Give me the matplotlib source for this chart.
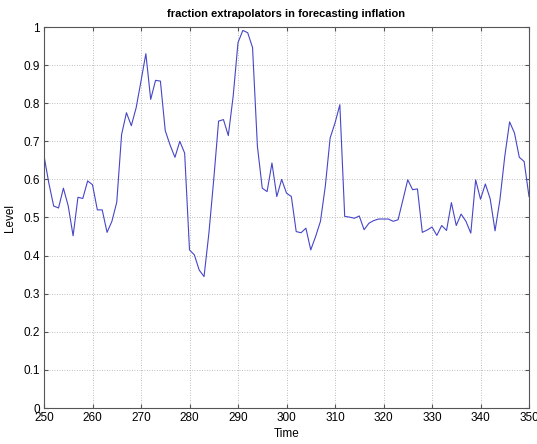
import matplotlib
matplotlib.use("Agg")
import matplotlib.pyplot as plt
import numpy as np

time = list(range(250, 351))
level = [0.662, 0.59, 0.53, 0.525, 0.577, 0.53, 0.452, 0.553, 0.55, 0.596,
         0.586, 0.52, 0.52, 0.461, 0.49, 0.54, 0.718, 0.775, 0.741, 0.788,
         0.858, 0.93, 0.81, 0.86, 0.858, 0.728, 0.69, 0.658, 0.70, 0.669,
         0.415, 0.402, 0.362, 0.345, 0.459, 0.60, 0.753, 0.757, 0.715, 0.818,
         0.959, 0.991, 0.985, 0.946, 0.687, 0.577, 0.568, 0.643, 0.555, 0.60,
         0.564, 0.555, 0.463, 0.46, 0.472, 0.415, 0.45, 0.49, 0.582, 0.709,
         0.748, 0.796, 0.503, 0.501, 0.498, 0.504, 0.468, 0.485, 0.492, 0.496,
         0.496, 0.496, 0.49, 0.494, 0.546, 0.599, 0.573, 0.575, 0.461, 0.467,
         0.475, 0.453, 0.479, 0.466, 0.539, 0.479, 0.509, 0.49, 0.459, 0.599,
         0.548, 0.588, 0.549, 0.465, 0.546, 0.66, 0.751, 0.722, 0.658, 0.647,
         0.555]

xticks = list(range(250, 351, 10))
yticks = [0, 0.1, 0.2, 0.3, 0.4, 0.5, 0.6, 0.7, 0.8, 0.9, 1]
yticklabels = ["0", "0.1", "0.2", "0.3", "0.4", "0.5", "0.6", "0.7", "0.8", "0.9", "1"]

plt.rcParams['font.family'] = ['Liberation Sans', 'DejaVu Sans']

fig = plt.figure(figsize=(5.37, 4.44), dpi=100)
ax = fig.add_axes([44/537, 1-408/444, (529-44)/537, (408-27)/444])
ax.plot(time, level, color="#4646c8", linewidth=0.8)
ax.set_xlim(250, 350)
ax.set_ylim(0, 1)
ax.set_xticks(xticks)
ax.set_yticks(yticks)
ax.set_yticklabels(yticklabels)
ax.grid(True, linestyle=(0, (1, 2)), color="#aaaaaa", linewidth=0.6)
ax.tick_params(direction="in", labelsize=8.5, top=True, right=True, length=3,
               color="#555555", pad=3)
for s in ax.spines.values():
    s.set_linewidth(0.8)
    s.set_color("#555555")
ax.set_title("fraction extrapolators in forecasting inflation", fontsize=8,
             fontweight="bold", pad=7)
ax.set_xlabel("Time", fontsize=8.5, labelpad=3)
ax.set_ylabel("Level", fontsize=8.5, labelpad=5)
fig.savefig("out.png", dpi=100)
